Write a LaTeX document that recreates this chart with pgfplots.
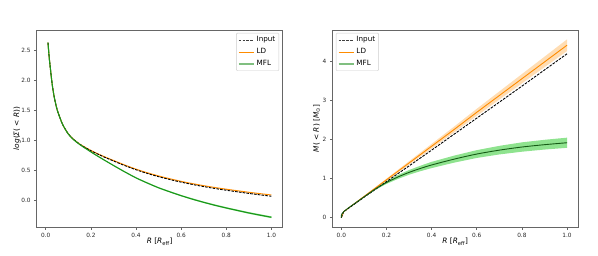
\documentclass[border=0pt]{standalone}
\usepackage{fontspec}
\setmainfont{DejaVu Sans}
\usepackage{pgfplots}
\pgfplotsset{compat=1.18}
\usepgfplotslibrary{fillbetween}
\definecolor{ldor}{HTML}{FF8C00}
\definecolor{ldband}{HTML}{FFDDB3}
\definecolor{mflg}{HTML}{1A961A}
\definecolor{mfldark}{HTML}{145A14}
\definecolor{mflband}{HTML}{8FE38F}
\definecolor{mflleg}{HTML}{80BF80}
\begin{document}
\begin{tikzpicture}
\path (0pt,0pt) rectangle (598pt,255pt);
\pgfplotsset{myax/.style={
  scale only axis, width=246pt, height=197pt,
  axis line style={black!60, line width=0.5pt},
  tick style={black!60, line width=0.5pt},
  tick align=outside, major tick length=2.5pt,
  xtick pos=lower, ytick pos=left,
  ticklabel style={font=\fontsize{5.8}{6}\selectfont, text=black!85},
  /pgf/number format/assume math mode=true,
  xmin=-0.04, xmax=1.05,
  xtick={0,0.2,0.4,0.6,0.8,1.0},
  xticklabel style={/pgf/number format/.cd, fixed, fixed zerofill, precision=1},
  xlabel={\textit{R} [\textit{R}\textsubscript{eff}]},
  xlabel style={font=\fontsize{7.4}{8}\selectfont, at={(axis description cs:0.5,-0.075)}, anchor=center},
  ylabel style={font=\fontsize{7.4}{8}\selectfont},
  legend cell align=left,
  legend style={font=\fontsize{7.2}{8}\selectfont, draw=black!20, rounded corners=1pt, inner sep=1.5pt, row sep=1.2pt},
}}
% ---------------- left panel ----------------
\begin{axis}[myax, at={(36.7pt,28pt)}, anchor=south west,
  ymin=-0.44, ymax=2.84,
  ytick={0,0.5,1.0,1.5,2.0,2.5},
  yticklabel style={/pgf/number format/.cd, fixed, fixed zerofill, precision=1},
  ylabel={\textit{log}(\textit{Σ}( \textit{<} \textit{R}))},
  ylabel style={at={(axis description cs:-0.08,0.5)}, anchor=center},
  legend image code/.code={\draw[#1] (0pt,0pt) -- (15pt,0pt);},
  legend style={at={(0.985,0.985)}, anchor=north east}]
\addlegendimage{draw=black!75, line width=0.9pt, dash pattern=on 2.6pt off 1.2pt}
\addlegendentry{Input}
\addlegendimage{draw=ldor, line width=0.9pt}
\addlegendentry{LD}
\addlegendimage{draw=mflleg, line width=1.8pt}
\addlegendentry{MFL}
% thin MFL band
\addplot[name path=mflu, draw=none, forget plot] coordinates {
(0.2,0.815) (0.3,0.592) (0.4,0.386) (0.5,0.223) (0.6,0.093) (0.7,-0.017) (0.8,-0.110) (0.9,-0.192) (1.0,-0.263)};
\addplot[name path=mfll, draw=none, forget plot] coordinates {
(0.2,0.805) (0.3,0.578) (0.4,0.370) (0.5,0.203) (0.6,0.071) (0.7,-0.041) (0.8,-0.136) (0.9,-0.220) (1.0,-0.293)};
\addplot[mflband, forget plot] fill between[of=mflu and mfll];
% LD
\addplot[ldor, line width=1.0pt, smooth, forget plot] coordinates {
(0.01,2.63) (0.015,2.40) (0.02,2.22) (0.025,2.05) (0.03,1.90) (0.035,1.78) (0.04,1.68)
(0.05,1.52) (0.06,1.41) (0.07,1.31) (0.08,1.23) (0.10,1.11) (0.12,1.03) (0.15,0.942)
(0.20,0.835) (0.25,0.746) (0.30,0.668) (0.35,0.592) (0.40,0.523) (0.45,0.463) (0.50,0.410)
(0.55,0.363) (0.60,0.320) (0.65,0.282) (0.70,0.248) (0.75,0.217) (0.80,0.189) (0.85,0.163)
(0.90,0.138) (0.95,0.115) (1.00,0.093)};
% Input
\addplot[black, line width=0.9pt, dash pattern=on 2.6pt off 1.2pt, smooth, forget plot] coordinates {
(0.01,2.63) (0.015,2.40) (0.02,2.22) (0.025,2.05) (0.03,1.90) (0.035,1.78) (0.04,1.68)
(0.05,1.52) (0.06,1.41) (0.07,1.31) (0.08,1.23) (0.10,1.11) (0.12,1.03) (0.15,0.94)
(0.20,0.83) (0.25,0.74) (0.30,0.66) (0.35,0.583) (0.40,0.513) (0.45,0.452) (0.50,0.398)
(0.55,0.350) (0.60,0.307) (0.65,0.268) (0.70,0.233) (0.75,0.201) (0.80,0.172) (0.85,0.145)
(0.90,0.119) (0.95,0.095) (1.00,0.072)};
% MFL
\addplot[mflg, line width=1.1pt, smooth, forget plot] coordinates {
(0.01,2.63) (0.015,2.40) (0.02,2.22) (0.025,2.05) (0.03,1.90) (0.035,1.78) (0.04,1.68)
(0.05,1.52) (0.06,1.41) (0.07,1.31) (0.08,1.23) (0.10,1.108) (0.12,1.025) (0.15,0.935)
(0.20,0.81) (0.25,0.695) (0.30,0.585) (0.35,0.478) (0.40,0.378) (0.45,0.292) (0.50,0.213)
(0.55,0.145) (0.60,0.082) (0.65,0.023) (0.70,-0.029) (0.75,-0.079) (0.80,-0.123) (0.85,-0.165)
(0.90,-0.206) (0.95,-0.243) (1.00,-0.278)};
\end{axis}
% ---------------- right panel ----------------
\begin{axis}[myax, at={(332.3pt,28pt)}, anchor=south west,
  ymin=-0.24, ymax=4.81,
  ytick={0,1,2,3,4},
  ylabel={\textit{M}( \textit{<} \textit{R}) [\textit{M}\textsubscript{⊙}]},
  ylabel style={at={(axis description cs:-0.064,0.5)}, anchor=center},
  legend image code/.code={\draw[#1] (0pt,0pt) -- (15pt,0pt);},
  legend style={at={(0.015,0.985)}, anchor=north west}]
\addlegendimage{draw=black!75, line width=0.9pt, dash pattern=on 2.6pt off 1.2pt}
\addlegendentry{Input}
\addlegendimage{draw=ldor, line width=0.9pt}
\addlegendentry{LD}
\addlegendimage{draw=mflleg, line width=1.8pt}
\addlegendentry{MFL}
% LD band
\addplot[name path=ldu, draw=none, forget plot] coordinates {
(0,0) (0.01,0.152) (0.1,0.555) (0.2,1.00) (0.3,1.445) (0.4,1.89) (0.5,2.335) (0.6,2.79) (0.7,3.235) (0.8,3.68) (0.9,4.125) (1.0,4.57)};
\addplot[name path=ldl, draw=none, forget plot] coordinates {
(0,0) (0.01,0.148) (0.1,0.525) (0.2,0.94) (0.3,1.355) (0.4,1.77) (0.5,2.185) (0.6,2.61) (0.7,3.025) (0.8,3.44) (0.9,3.855) (1.0,4.27)};
\addplot[ldband, forget plot] fill between[of=ldu and ldl];
% MFL band
\addplot[name path=mu, draw=none, forget plot] coordinates {
(0,0) (0.01,0.153) (0.1,0.54) (0.15,0.75) (0.2,0.935) (0.25,1.09) (0.3,1.22) (0.35,1.33) (0.4,1.43) (0.5,1.59) (0.6,1.73) (0.7,1.84) (0.8,1.93) (0.9,1.995) (1.0,2.05)};
\addplot[name path=ml, draw=none, forget plot] coordinates {
(0,0) (0.01,0.147) (0.1,0.52) (0.15,0.71) (0.2,0.865) (0.25,0.99) (0.3,1.10) (0.35,1.19) (0.4,1.27) (0.5,1.41) (0.6,1.53) (0.7,1.62) (0.8,1.69) (0.9,1.745) (1.0,1.79)};
\addplot[mflband, forget plot] fill between[of=mu and ml];
% LD line
\addplot[ldor, line width=0.9pt, forget plot] coordinates {
(0,0) (0.01,0.15) (0.1,0.54) (0.2,0.97) (0.3,1.40) (0.4,1.83) (0.5,2.26) (0.6,2.70) (0.7,3.13) (0.8,3.56) (0.9,3.99) (1.0,4.42)};
% Input
\addplot[black, line width=0.9pt, dash pattern=on 2.6pt off 1.2pt, forget plot] coordinates {
(0,0) (0.01,0.15) (0.1,0.52) (0.2,0.925) (0.3,1.325) (0.4,1.73) (0.5,2.14) (0.6,2.55) (0.7,2.96) (0.8,3.37) (0.9,3.785) (1.0,4.20)};
% MFL line
\addplot[mfldark, line width=0.9pt, smooth, forget plot] coordinates {
(0,0) (0.01,0.15) (0.1,0.53) (0.15,0.73) (0.2,0.90) (0.25,1.04) (0.3,1.16) (0.35,1.26) (0.4,1.35) (0.5,1.50) (0.6,1.63) (0.7,1.73) (0.8,1.81) (0.9,1.87) (1.0,1.92)};
\node[anchor=south west, font=\fontsize{4.8}{5}\selectfont, inner sep=0.5pt, text=black!85] at (axis description cs:0,1.005) {1e11};
\end{axis}
\end{tikzpicture}
\end{document}
